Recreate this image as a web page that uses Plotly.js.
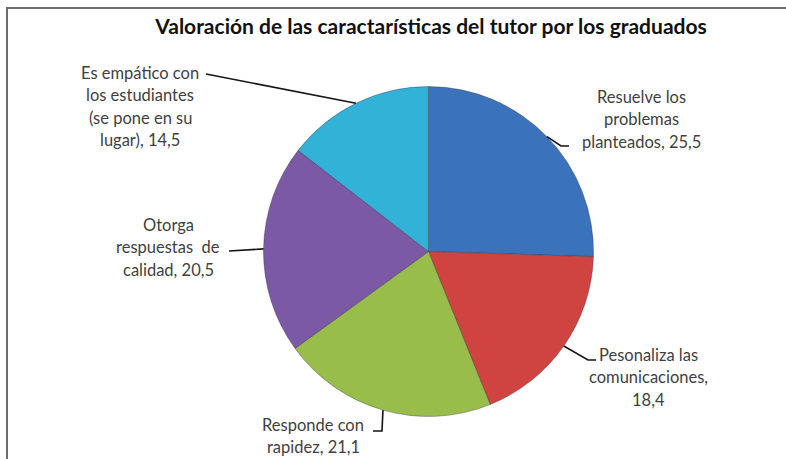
<!DOCTYPE html>
<html>
<head>
<meta charset="utf-8">
<script src="https://cdn.plot.ly/plotly-3.0.1.min.js"></script>
<style>
  html, body { margin: 0; padding: 0; background: #ffffff; }
  #wrap { position: relative; width: 786px; height: 459px; overflow: hidden; }
  #chart { width: 786px; height: 459px; }
  #frame { position: absolute; left: 6px; top: 7px; width: 800px; height: 470px;
           border-left: 2px solid #6e6e6e; border-top: 2px solid #6e6e6e; pointer-events: none; }
</style>
</head>
<body>
<div id="wrap">
  <div id="chart"></div>
  <div id="frame"></div>
</div>
<script>
// ---- data ----
const categories = [
  "Resuelve los problemas planteados",
  "Pesonaliza las comunicaciones",
  "Responde con rapidez",
  "Otorga respuestas de calidad",
  "Es empático con los estudiantes (se pone en su lugar)"
];
const values = [25.5, 18.4, 21.1, 20.5, 14.5];
const labelLines = [
  ["Resuelve los", "problemas", "planteados, 25,5"],
  ["Pesonaliza las", "comunicaciones,", "18,4"],
  ["Responde con", "rapidez, 21,1"],
  ["Otorga", "respuestas  de", "calidad, 20,5"],
  ["Es empático con", "los estudiantes", "(se pone en su", "lugar), 14,5"]
];
const colors = ["#3A72BB", "#CF4440", "#98BD4A", "#7B59A4", "#32B2D7"];

// ---- layout (pixels) ----
const W = 786, H = 459;
const CX = 428.5, CY = 251.5, R = 165;
// label block: center x, first line y; leader elbow points (after the pie edge point)
const labelPos = [
  { x: 641, y0: 97,  elbow: [[561, 146], [569, 146]] },
  { x: 648, y0: 355, elbow: [[588, 360], [596, 360]] },
  { x: 313, y0: 425, elbow: [[382, 431], [373, 431]] },
  { x: 168, y0: 225, elbow: [[229, 251]] },
  { x: 140, y0: 73,  elbow: [[206, 74]] }
];
const LINE_H = 22.3;

const px = x => x / W;
const py = y => 1 - y / H;

const total = values.reduce((a, b) => a + b, 0);
const annotations = [];
const shapes = [];
let cum = 0;
values.forEach((v, i) => {
  const mid = (cum + v / 2) / total * 2 * Math.PI; // clockwise from 12 o'clock
  cum += v;
  const ex = CX + R * Math.sin(mid);
  const ey = CY - R * Math.cos(mid);
  const pts = [[ex, ey]].concat(labelPos[i].elbow);
  let path = "M " + pts.map(p => px(p[0]).toFixed(5) + "," + py(p[1]).toFixed(5)).join(" L ");
  shapes.push({ type: "path", xref: "paper", yref: "paper", path: path,
                line: { color: "#151515", width: 1.6 } });
  labelLines[i].forEach((t, j) => {
    annotations.push({
      xref: "paper", yref: "paper",
      x: px(labelPos[i].x), y: py(labelPos[i].y0 + j * LINE_H),
      xanchor: "center", yanchor: "middle", showarrow: false,
      text: t, font: { family: "Lato, 'Open Sans', sans-serif", size: 16.5, color: "#3f3f3f" }
    });
  });
});

const trace = {
  type: "pie",
  labels: categories,
  values: values,
  sort: false,
  direction: "clockwise",
  rotation: 0,
  textinfo: "none",
  hoverinfo: "label+value",
  marker: { colors: colors, line: { color: "rgba(40,40,60,0.35)", width: 1 } },
  domain: { x: [(CX - R) / W, (CX + R) / W], y: [1 - (CY + R) / H, 1 - (CY - R) / H] },
  showlegend: false
};

const layout = {
  width: W, height: H,
  margin: { l: 0, r: 0, t: 0, b: 0 },
  paper_bgcolor: "#ffffff",
  title: { text: "<b>Valoración de las caractarísticas del tutor por los graduados</b>",
           x: 431 / W, xanchor: "center", y: 1 - 27 / H, yanchor: "middle",
           font: { family: "Lato, 'Open Sans', sans-serif", size: 21, color: "#111111" } },
  annotations: annotations,
  shapes: shapes
};

Plotly.newPlot("chart", [trace], layout, { displayModeBar: false, staticPlot: true });
</script>
</body>
</html>
